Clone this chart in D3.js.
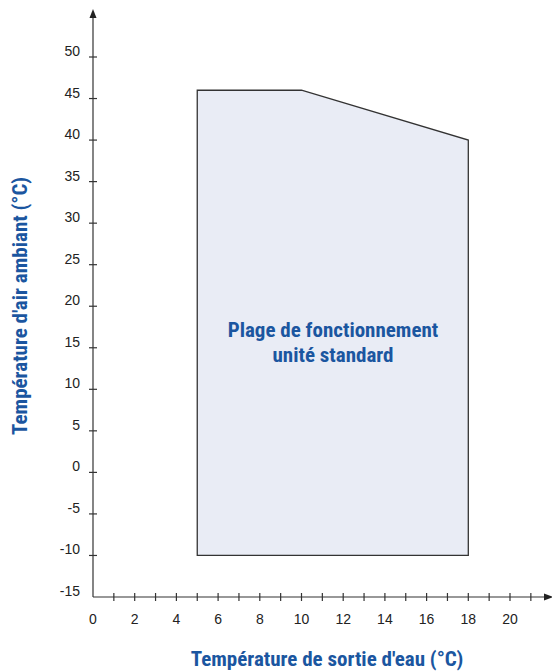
<!DOCTYPE html>
<html><head><meta charset="utf-8">
<script src="https://cdn.jsdelivr.net/npm/d3@7"></script>
<style>body{margin:0;background:#fff}svg{display:block}</style>
</head><body>
<svg id="c" width="552" height="671"></svg>
<script>
const xTicks = [0,2,4,6,8,10,12,14,16,18,20];
const xMinor = d3.range(1,22);
const yTicks = [-15,-10,-5,0,5,10,15,20,25,30,35,40,45,50];
const envelopeX = [5,5,10,18,18];
const envelopeY = [-10,46,46,40,-10];
const areaLabel = ["Plage de fonctionnement","unité standard"];
const xTitle = "Température de sortie d'eau (°C)";
const yTitle = "Température d'air ambiant (°C)";

const svg = d3.select("#c");
const x = d3.scaleLinear().domain([0,20]).range([93,510]);
const y = d3.scaleLinear().domain([-15,50]).range([597,57]);
const axisColor = "#333";
const blue = "#1b56a0";
const condensed = "'Liberation Sans Narrow','Roboto Condensed','Liberation Sans',Arial,sans-serif";

// envelope
const pts = envelopeX.map((d,i)=>[x(d),y(envelopeY[i])]);
svg.append("path").attr("d", d3.line()(pts)+"Z")
  .attr("fill","#e9ecf5").attr("stroke",axisColor).attr("stroke-width",1.3);

// axes lines
svg.append("line").attr("x1",x(0)).attr("x2",x(0)).attr("y1",y(-15)).attr("y2",16)
  .attr("stroke",axisColor).attr("stroke-width",1.2);
svg.append("path").attr("d",`M${x(0)-3.5},${18} L${x(0)},${9} L${x(0)+3.5},${18} Z`).attr("fill","#222");
svg.append("line").attr("x1",x(0)).attr("x2",546).attr("y1",y(-15)).attr("y2",y(-15))
  .attr("stroke",axisColor).attr("stroke-width",1.2);
svg.append("path").attr("d",`M${544},${y(-15)-3.5} L${553},${y(-15)} L${544},${y(-15)+3.5} Z`).attr("fill","#222");

// y ticks (not at -15)
svg.selectAll(".yt").data(yTicks.filter(d=>d>-15)).join("line")
  .attr("x1",x(0)-4).attr("x2",x(0)+4).attr("y1",d=>y(d)).attr("y2",d=>y(d))
  .attr("stroke",axisColor).attr("stroke-width",1.2);
svg.selectAll(".yl").data(yTicks).join("text")
  .attr("x",80).attr("y",d=>y(d)-1).attr("text-anchor","end")
  .attr("font-family","'Liberation Sans',Arial,sans-serif").attr("font-size",14).attr("fill","#222")
  .text(d=>d);

// x ticks
svg.selectAll(".xt").data(xMinor).join("line")
  .attr("x1",d=>x(d)).attr("x2",d=>x(d)).attr("y1",y(-15)-4).attr("y2",y(-15)+4)
  .attr("stroke",axisColor).attr("stroke-width",1.2);
svg.selectAll(".xl").data(xTicks).join("text")
  .attr("x",d=>x(d)).attr("y",624).attr("text-anchor","middle")
  .attr("font-family","'Liberation Sans',Arial,sans-serif").attr("font-size",14).attr("fill","#222")
  .text(d=>d);

// area label
svg.selectAll(".al").data(areaLabel).join("text")
  .attr("x",333).attr("y",(d,i)=>337+i*25).attr("text-anchor","middle")
  .attr("font-family",condensed).attr("font-weight","bold").attr("font-size",21).attr("fill",blue)
  .text(d=>d);

// titles
svg.append("text").attr("x",327).attr("y",666).attr("text-anchor","middle")
  .attr("font-family",condensed).attr("font-weight","bold").attr("font-size",21).attr("fill",blue)
  .text(xTitle);
svg.append("text").attr("transform","translate(27,306) rotate(-90)").attr("text-anchor","middle")
  .attr("font-family",condensed).attr("font-weight","bold").attr("font-size",21).attr("fill",blue)
  .text(yTitle);
</script>
</body></html>
